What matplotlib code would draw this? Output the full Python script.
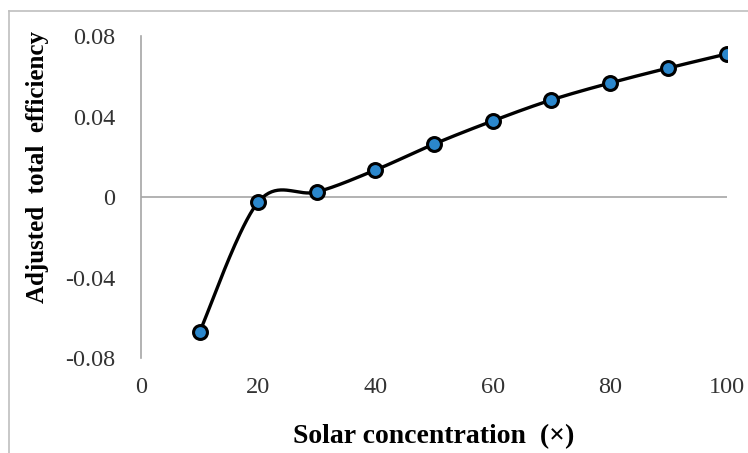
import numpy as np
import matplotlib.pyplot as plt
from matplotlib.lines import Line2D

# solar concentration vs adjusted total efficiency
concentration = [10, 20, 30, 40, 50, 60, 70, 80, 90, 100]
efficiency = [-0.0671, -0.0025, 0.0025, 0.0134, 0.0263, 0.0378, 0.0482, 0.0566, 0.0641, 0.0711]
x_ticks = [0, 20, 40, 60, 80, 100]
y_ticks = [-0.08, -0.04, 0, 0.04, 0.08]
y_tick_labels = ["-0.08", "-0.04", "0", "0.04", "0.08"]


def smooth_curve(xs, ys, n=40):
    # spreadsheet-style smoothing: cubic Bezier with Catmull-Rom control points
    pts = np.column_stack([xs, ys]).astype(float)
    out = []
    for i in range(len(pts) - 1):
        p0 = pts[i - 1] if i > 0 else pts[i]
        p1, p2 = pts[i], pts[i + 1]
        p3 = pts[i + 2] if i + 2 < len(pts) else pts[i + 1]
        c1 = p1 + (p2 - p0) / 6
        c2 = p2 - (p3 - p1) / 6
        t = np.linspace(0, 1, n)[:, None]
        seg = ((1 - t) ** 3) * p1 + 3 * ((1 - t) ** 2) * t * c1 + 3 * (1 - t) * t ** 2 * c2 + t ** 3 * p2
        out.append(seg if i == 0 else seg[1:])
    seg = np.vstack(out)
    return seg[:, 0], seg[:, 1]


plt.rcParams['font.family'] = ['Liberation Serif', 'DejaVu Serif']

fig = plt.figure(figsize=(7.48, 4.53), dpi=100)
ax = fig.add_axes([141 / 748, 1 - 358 / 453, (727 - 141) / 748, (358 - 36) / 453])

sx, sy = smooth_curve(concentration, efficiency)
ax.plot(sx, sy, color='black', lw=2.4, zorder=3)
ax.plot(concentration, efficiency, ls='none', marker='o', ms=10,
        mfc='#2B87CC', mec='black', mew=2.2, zorder=4)

ax.set_xlim(0, 100)
ax.set_ylim(-0.08, 0.08)
ax.axhline(0, color='#A6A6A6', lw=1.2, zorder=1)

for side in ['top', 'right', 'bottom']:
    ax.spines[side].set_visible(False)
ax.spines['left'].set_color('#A6A6A6')
ax.spines['left'].set_linewidth(1.2)

ax.set_xticks(x_ticks)
ax.set_yticks(y_ticks)
ax.set_yticklabels(y_tick_labels)
ax.tick_params(length=0, labelsize=17.5, colors='#333333')
ax.tick_params(axis='x', pad=14)
ax.tick_params(axis='y', pad=18.5)

ax.set_xlabel('Solar concentration  (×)', fontsize=20, fontweight='bold', va='center')
ax.xaxis.set_label_coords(0.5, (358 - 437) / 322)
ax.set_ylabel('Adjusted  total  efficiency', fontsize=18, fontweight='bold', va='center')
ax.yaxis.set_label_coords((38 - 141) / 586, (358 - 167) / 322)

# chart frame
fig.add_artist(Line2D([9 / 748, 9 / 748], [0, 1 - 11 / 453], transform=fig.transFigure,
                      color='#BFBFBF', lw=1.2))
fig.add_artist(Line2D([9 / 748, 1], [1 - 11 / 453, 1 - 11 / 453], transform=fig.transFigure,
                      color='#BFBFBF', lw=1.2))

fig.savefig('out.png', dpi=100)
